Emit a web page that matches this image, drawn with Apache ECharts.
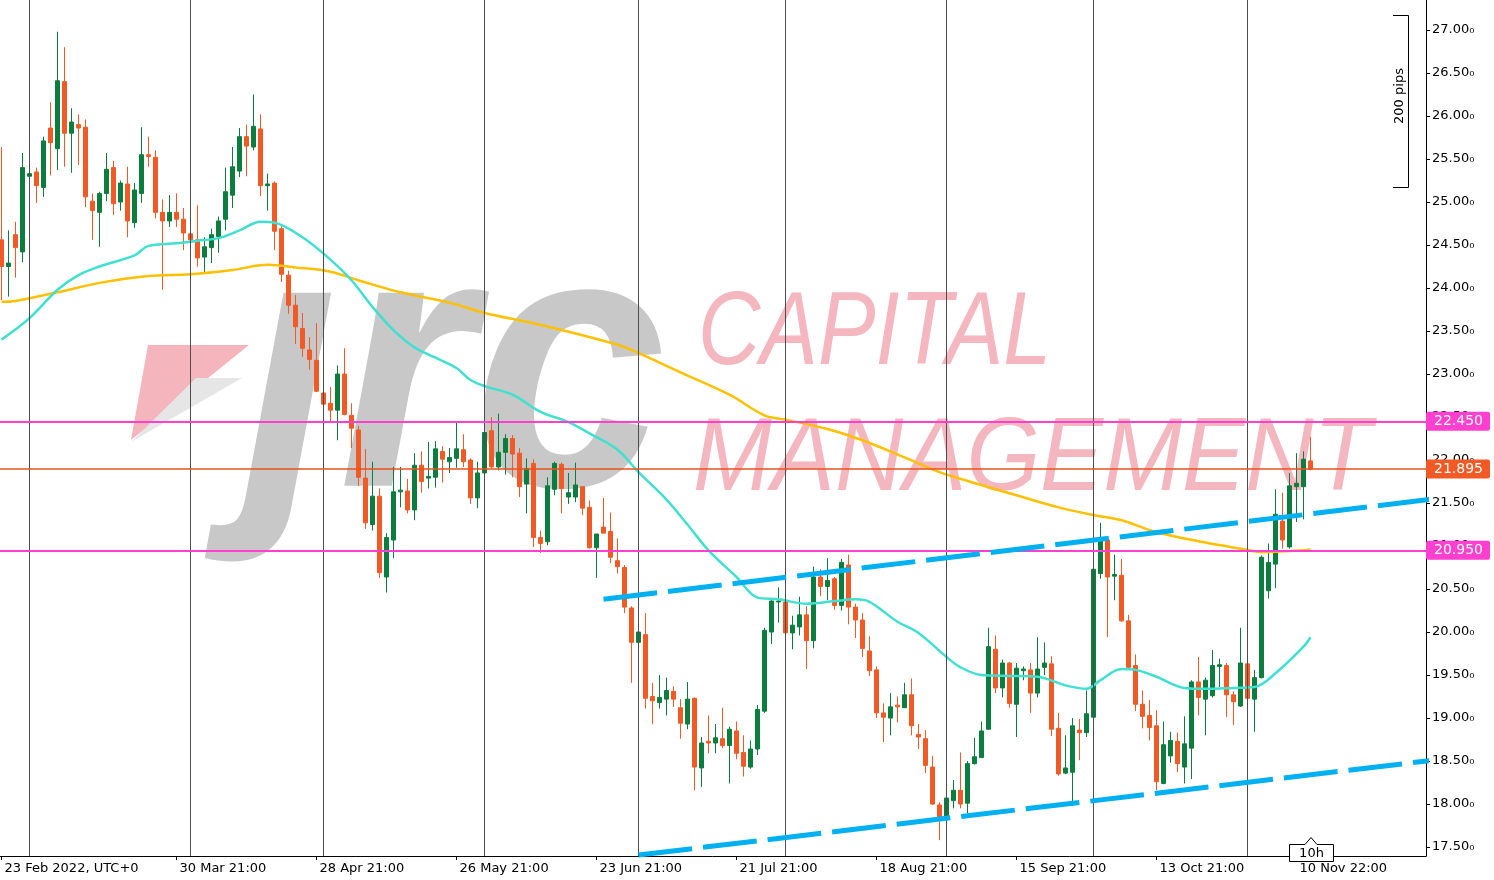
<!DOCTYPE html>
<html><head><meta charset="utf-8">
<script src="https://cdn.jsdelivr.net/npm/echarts@6/dist/echarts.min.js"></script>
<style>html,body{margin:0;padding:0;background:#fff;}#c{width:1494px;height:880px;}</style>
</head><body><div id="c"></div>
<script>
// ---- data ----
// daily candles: [open, high, low, close]
const ohlc = [
[24.56,25.64,23.86,24.25],[24.25,24.67,23.90,24.29],[24.62,24.77,24.12,24.47],[24.42,25.57,24.30,25.40],[25.30,25.43,24.88,25.33],
[25.35,25.40,24.99,25.19],[25.17,25.76,25.06,25.71],[25.86,26.16,25.31,25.69],[25.62,26.98,25.37,26.41],[26.40,26.80,25.41,25.80],
[25.80,26.09,25.34,25.93],[25.90,26.02,25.43,25.86],[25.87,25.96,24.94,25.06],[25.01,25.10,24.56,24.90],[24.88,25.12,24.48,25.10],
[25.10,25.57,25.01,25.38],[25.40,25.48,24.85,24.98],[25.00,25.25,24.90,25.22],[25.21,25.41,24.59,24.78],[24.76,25.22,24.70,25.14],
[25.10,25.87,24.99,25.55],[25.55,25.76,25.41,25.53],[25.52,25.60,24.81,24.88],[24.88,25.03,23.98,24.78],[24.78,25.08,24.71,24.88],
[24.88,25.10,24.71,24.80],[24.80,24.93,24.44,24.64],[24.63,24.87,24.30,24.56],[24.56,24.96,24.25,24.35],[24.36,24.59,24.18,24.48],
[24.47,24.69,24.29,24.62],[24.60,24.83,24.41,24.78],[24.80,25.40,24.67,25.12],[25.08,25.64,24.93,25.41],[25.36,25.86,25.29,25.76],
[25.76,25.90,25.30,25.65],[25.64,26.25,25.60,25.88],[25.85,26.02,25.07,25.19],[25.19,25.33,24.90,25.21],[25.22,25.24,24.44,24.66],
[24.69,24.72,24.07,24.16],[24.15,24.20,23.70,23.80],[23.80,23.92,23.35,23.55],[23.53,23.71,23.20,23.30],[23.28,23.43,23.05,23.17],
[23.16,23.59,22.79,22.80],[22.78,22.86,22.14,22.65],[22.66,22.85,22.43,22.58],[22.58,23.10,22.23,23.00],[23.00,23.30,22.52,22.53],
[22.52,22.66,22.14,22.37],[22.35,22.40,21.70,21.80],[21.79,22.13,21.20,21.27],[21.25,21.98,21.18,21.58],[21.58,21.67,20.63,20.69],
[20.64,21.15,20.46,21.10],[21.07,21.92,20.86,21.63],[21.63,21.92,21.45,21.65],[21.64,21.78,21.38,21.42],[21.42,22.08,21.30,21.94],
[21.94,22.10,21.62,21.75],[21.79,22.21,21.67,21.81],[21.80,22.22,21.68,22.13],[22.10,22.16,21.74,22.01],[21.98,22.14,21.85,22.03],
[22.02,22.45,21.91,22.13],[22.12,22.30,21.92,21.98],[22.00,22.02,21.49,21.56],[21.56,21.98,21.44,21.85],[21.85,22.45,21.83,22.32],
[22.34,22.50,21.91,21.92],[21.92,22.54,21.88,22.09],[22.09,22.30,21.83,22.25],[22.25,22.29,21.80,22.07],[22.08,22.14,21.57,21.69],
[21.72,22.02,21.38,21.90],[21.96,22.01,20.99,21.10],[21.10,21.18,20.92,21.03],[21.05,21.80,21.01,21.70],[21.66,21.98,21.59,21.96],
[21.95,21.97,21.38,21.67],[21.57,21.85,21.49,21.62],[21.57,21.97,21.51,21.71],[21.69,21.69,21.36,21.44],[21.45,21.53,20.97,20.98],
[20.98,21.14,20.63,21.14],[21.22,21.56,21.15,21.15],[21.17,21.39,20.80,20.87],[20.83,21.09,20.68,20.76],[20.75,20.78,20.22,20.29],
[20.28,20.30,19.41,19.88],[19.88,20.01,19.77,20.00],[19.97,20.22,19.11,19.23],[19.25,19.41,18.93,19.20],[19.18,19.50,19.11,19.24],
[19.22,19.47,19.03,19.32],[19.31,19.37,19.13,19.22],[19.12,19.22,18.76,18.94],[18.93,19.42,18.87,19.22],[19.23,19.24,18.16,18.43],
[18.42,18.78,18.20,18.71],[18.73,19.03,18.59,18.71],[18.71,18.93,18.59,18.77],[18.76,19.12,18.65,18.68],[18.68,18.90,18.24,18.87],
[18.85,18.96,18.52,18.59],[18.60,18.80,18.32,18.44],[18.43,18.74,18.41,18.64],[18.64,19.15,18.57,19.10],[19.08,20.05,19.06,20.02],
[20.00,20.37,19.86,20.36],[20.35,20.52,20.11,20.36],[20.35,20.52,19.95,19.99],[19.99,20.19,19.80,20.08],[20.06,20.41,19.96,20.20],
[20.20,20.30,19.57,19.90],[19.90,20.76,19.81,20.64],[20.64,20.73,20.42,20.53],[20.53,20.86,20.37,20.60],[20.62,20.64,20.26,20.31],
[20.31,20.85,20.25,20.81],[20.78,20.90,20.09,20.29],[20.29,20.33,19.93,20.14],[20.14,20.22,19.71,19.81],[19.78,19.95,19.49,19.55],
[19.56,19.60,19.00,19.06],[19.06,19.17,18.72,19.01],[19.00,19.29,18.80,19.13],[19.15,19.25,18.95,19.13],[19.12,19.41,19.12,19.27],
[19.27,19.46,18.80,18.91],[18.81,18.93,18.64,18.78],[18.76,18.86,18.36,18.45],[18.43,18.56,17.99,18.00],[17.99,18.02,17.58,17.85],
[17.83,18.31,17.82,18.07],[18.04,18.28,17.95,18.16],[18.16,18.60,17.95,18.00],[18.01,18.50,17.89,18.47],[18.47,18.77,18.46,18.55],
[18.54,18.96,18.54,18.85],[18.87,20.05,18.86,19.83],[19.80,19.96,19.29,19.35],[19.35,19.68,19.24,19.64],[19.64,19.65,19.12,19.17],
[19.16,19.64,18.78,19.58],[19.55,19.60,19.44,19.57],[19.56,19.64,19.06,19.29],[19.29,19.94,19.24,19.57],[19.59,19.88,19.50,19.64],
[19.63,19.72,18.79,18.87],[18.88,19.06,18.33,18.35],[18.36,18.80,18.35,18.42],[18.37,19.00,17.98,18.91],[18.86,18.99,18.51,18.83],
[18.83,19.32,18.78,19.05],[19.01,20.74,19.00,20.73],[20.68,21.27,20.62,21.06],[21.07,21.09,19.94,20.64],[20.65,20.90,20.37,20.67],
[20.66,20.85,20.12,20.13],[20.13,20.20,19.58,19.59],[19.61,19.74,19.08,19.16],[19.16,19.32,18.88,19.02],[19.03,19.21,18.74,18.89],
[18.91,19.09,18.16,18.26],[18.24,18.96,18.23,18.69],[18.56,18.84,18.48,18.74],[18.73,18.83,18.37,18.47],[18.43,19.02,18.24,18.70],
[18.65,19.44,18.29,19.42],[19.42,19.71,19.03,19.24],[19.22,19.47,18.80,19.44],[19.26,19.79,19.24,19.61],[19.60,19.69,19.36,19.62],
[19.61,19.64,19.01,19.27],[19.27,19.31,18.92,19.19],[19.14,20.05,19.13,19.64],[19.63,20.10,19.21,19.23],[19.22,19.56,18.84,19.47],
[19.47,20.89,19.46,20.87],[20.48,21.03,20.39,20.81],[20.79,21.66,20.51,21.37],[21.29,21.62,20.97,21.07],[20.99,21.85,20.97,21.70],
[21.69,22.08,21.28,21.73],[21.69,22.10,21.31,22.01],[21.99,22.27,21.88,21.895]
];
// moving averages read at sample bars: [barIndex, price]
const maFast = [[0,23.40],[4,23.65],[8,23.98],[11,24.15],[14,24.25],[19,24.38],[21,24.49],[25,24.52],[28,24.55],[31,24.58],[34,24.67],[37,24.77],[39,24.76],[43,24.59],[47,24.33],[50,24.09],[53,23.78],[56,23.51],[59,23.31],[62,23.19],[65,23.07],[67,22.93],[69,22.86],[73,22.76],[77,22.56],[81,22.44],[84,22.31],[88,22.12],[91,21.86],[95,21.54],[98,21.25],[101,20.95],[105,20.64],[108,20.40],[111,20.38],[115,20.33],[119,20.36],[122,20.38],[124,20.35],[128,20.12],[131,19.99],[135,19.71],[137,19.59],[140,19.50],[144,19.49],[148,19.48],[152,19.38],[155,19.34],[157,19.44],[160,19.57],[162,19.56],[165,19.48],[169,19.35],[172,19.34],[176,19.35],[179,19.36],[182,19.52],[186,19.83],[187,19.94]];
const maSlow = [[0,23.84],[2,23.85],[8,23.95],[14,24.06],[21,24.14],[27,24.16],[33,24.21],[38,24.27],[42,24.24],[47,24.19],[51,24.09],[57,23.95],[64,23.83],[69,23.71],[76,23.59],[83,23.45],[88,23.34],[90,23.28],[97,23.02],[104,22.76],[109,22.52],[112,22.47],[118,22.36],[123,22.23],[129,22.03],[134,21.86],[140,21.71],[145,21.59],[151,21.45],[156,21.36],[160,21.30],[165,21.16],[172,21.04],[177,20.97],[180,20.93],[186,20.95],[187,20.96]];
// trend channel end points: [barIndex, price]
const trendUpper = [[86,20.381],[204,21.541]];
const trendLower = [[91,17.407],[204,18.505]];
// horizontal levels
const levelHigh = 22.450, levelLast = 21.895, levelLow = 20.950;
// axis
const barCount = 204;
const categories = Array.from({length: barCount}, (_, i) => 'bar' + i);
const xLabelIdx = [0,25,45,65,85,105,125,145,165,185];
const xLabelText = ['23 Feb 2022, UTC+0','30 Mar 21:00','28 Apr 21:00','26 May 21:00','23 Jun 21:00','21 Jul 21:00','18 Aug 21:00','15 Sep 21:00','13 Oct 21:00','10 Nov 22:00'];
const monthSepIdx = [4,27,46,69,91,112,135,156,178];
const priceTicks = [17.5,18,18.5,19,19.5,20,20.5,21,21.5,22,22.5,23,23.5,24,24.5,25,25.5,26,26.5,27];
const yMin = 17.396, yMax = 27.349;

// ---- chart ----
const GREEN = '#0b7d3e', RED = '#f15a24', MAGENTA = '#ff3fd0';
const labelMap = {};
xLabelIdx.forEach((i, k) => labelMap[i] = xLabelText[k]);
const isLabel = (i) => labelMap[i] !== undefined;
const FONT = 'DejaVu Sans';

const candleData = ohlc.map(r => [r[0], r[3], r[2], r[1]]);

const chart = echarts.init(document.getElementById('c'), null, {renderer: 'canvas'});
const tagLabel = (txt, bg) => ({
  show: true, position: 'end', formatter: txt, color: '#fff', backgroundColor: bg,
  padding: [3, 7, 2, 8], fontSize: 14, fontFamily: FONT, distance: 0, borderRadius: 2
});
chart.setOption({
  animation: false,
  backgroundColor: '#fff',
  grid: {left: -2, right: 68, top: 0, bottom: 24, containLabel: false, outerBoundsMode: 'none'},
  xAxis: {
    type: 'category', data: categories, boundaryGap: true,
    axisLine: {show: true, lineStyle: {color: '#000', width: 1}},
    axisTick: {show: true, alignWithLabel: true, interval: (i) => isLabel(i), length: 4, lineStyle: {color: '#000'}},
    axisLabel: {show: true, interval: (i) => isLabel(i), formatter: (v, i) => labelMap[i] || '',
      align: 'left', color: '#000', fontSize: 13, fontFamily: FONT, margin: 6, padding: [0, 0, 0, 3], hideOverlap: false},
    splitLine: {show: false}
  },
  yAxis: {
    type: 'value', position: 'right', min: yMin, max: yMax, scale: true,
    axisLine: {show: true, lineStyle: {color: '#000', width: 1}},
    axisTick: {show: true, customValues: priceTicks, length: 4, lineStyle: {color: '#000'}},
    axisLabel: {show: true, customValues: priceTicks, formatter: (v) => v.toFixed(2) + '\u2080',
      color: '#000', fontSize: 13, fontFamily: FONT, margin: 6},
    splitLine: {show: false}
  },
  graphic: [
    {type: 'polygon', z: 0, silent: true, shape: {points: [[148,345],[249,345],[131,440]]}, style: {fill: '#f4b5bd'}},
    {type: 'polygon', z: 0, silent: true, shape: {points: [[131,442],[242,378],[196,378]]}, style: {fill: '#e6e6e6'}},
    {type: 'text', z: 0, silent: true, x: 242, y: 385, scaleX: 0.95, style: {text: '\u0237rc', font: 'italic bold 365px "Liberation Sans"', fill: '#c8c8c8', align: 'left', verticalAlign: 'middle'}},
    {type: 'text', z: 0, silent: true, x: 698, y: 335, scaleX: 0.83, style: {text: 'CAPITAL', font: 'italic 104px "Liberation Sans"', fill: '#f5b7bf', align: 'left', verticalAlign: 'middle'}},
    {type: 'text', z: 0, silent: true, x: 693, y: 461, scaleX: 0.91, style: {text: 'MANAGEMENT', font: 'italic 104px "Liberation Sans"', fill: '#f5b7bf', align: 'left', verticalAlign: 'middle'}},
    {type: 'polyline', z: 5, silent: true, shape: {points: [[1393,15.5],[1408.5,15.5],[1408.5,187.5],[1393,187.5]]}, style: {stroke: '#000', lineWidth: 1, fill: null}},
    {type: 'text', z: 5, silent: true, x: 1400, y: 96, rotation: Math.PI / 2, style: {text: '200 pips', font: '13px "DejaVu Sans"', fill: '#000', align: 'center', verticalAlign: 'middle'}},
    {type: 'polygon', z: 50, silent: true, shape: {points: [[1289.5,844.5],[1305,844.5],[1311,837.5],[1317,844.5],[1333.5,844.5],[1333.5,861.5],[1289.5,861.5]]}, style: {fill: '#fff', stroke: '#000', lineWidth: 1}},
    {type: 'text', z: 51, silent: true, x: 1311.5, y: 853.5, style: {text: '10h', font: '13px "DejaVu Sans"', fill: '#000', align: 'center', verticalAlign: 'middle'}}
  ],
  series: [
    {
      type: 'candlestick', name: 'price', data: candleData, z: 3, barWidth: 4,
      itemStyle: {color: GREEN, color0: RED, borderColor: GREEN, borderColor0: RED, borderWidth: 1},
      markLine: {
        silent: true, symbol: ['none', 'none'], animation: false, precision: 3,
        label: {show: false},
        lineStyle: {color: '#4d4d4d', width: 1, type: 'solid'},
        data: monthSepIdx.map(i => ({xAxis: i})).concat([
          {yAxis: levelHigh, lineStyle: {color: MAGENTA, width: 2, type: 'solid'}, label: tagLabel('22.450', MAGENTA)},
          {yAxis: levelLow, lineStyle: {color: MAGENTA, width: 2, type: 'solid'}, label: tagLabel('20.950', MAGENTA)},
          {yAxis: levelLast, lineStyle: {color: '#e8521c', width: 1.5, type: 'solid'}, label: tagLabel('21.895', RED)}
        ])
      }
    },
    {type: 'line', name: 'maSlow', data: maSlow, smooth: 0.35, symbol: 'none', z: 4,
      lineStyle: {color: '#ffc000', width: 2.5}},
    {type: 'line', name: 'maFast', data: maFast, smooth: 0.35, symbol: 'none', z: 4,
      lineStyle: {color: '#40e0d0', width: 2.5}},
    {type: 'line', name: 'trendUpper', data: trendUpper, symbol: 'none', z: 6, clip: true,
      lineStyle: {color: '#00b0f0', width: 5, type: [54, 11]}},
    {type: 'line', name: 'trendLower', data: trendLower, symbol: 'none', z: 6, clip: true,
      lineStyle: {color: '#00b0f0', width: 5, type: [54, 11]}}
  ]
});
</script>
</body></html>
